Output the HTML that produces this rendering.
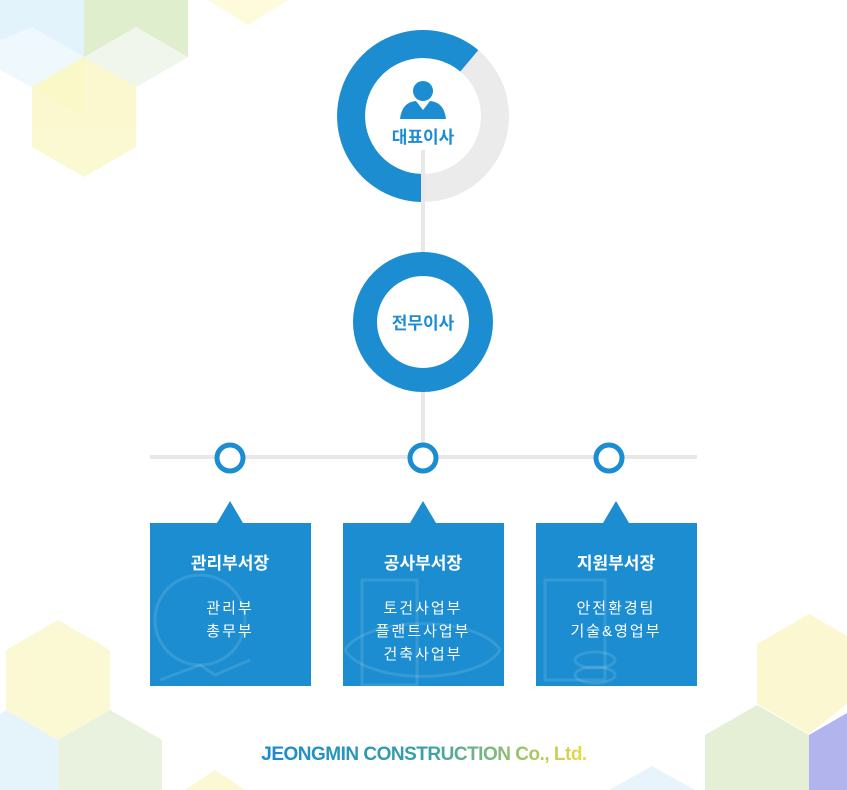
<!DOCTYPE html>
<html><head><meta charset="utf-8"><style>
html,body{margin:0;padding:0;background:#fff;width:847px;height:790px;overflow:hidden;}
body{position:relative;font-family:"Liberation Sans","Noto Sans CJK KR",sans-serif;}
svg{position:absolute;left:0;top:0;overflow:hidden;display:block;}
text{font-family:"Liberation Sans","Noto Sans CJK KR",sans-serif;}
</style></head><body>
<svg width="847" height="790" viewBox="0 0 847 790">
<defs>
<linearGradient id="lg" x1="0" x2="1"><stop offset="0" stop-color="#1a8ad2"/><stop offset="0.5" stop-color="#3aa0a8"/><stop offset="0.8" stop-color="#9ac46a"/><stop offset="1" stop-color="#f0d84a"/></linearGradient>
</defs>
<g opacity="0.9">
<polygon points="32,0 84,0 84,57 32,87 0,70 0,0" fill="#dff2fb"/>
<polygon points="84,0 188,0 188,57 136,87 84,57" fill="#dcedc8"/>
<polygon points="32,27 84,57 84,87 32,87 0,70 0,40" fill="#eef8fc"/>
<polygon points="136,27 188,57 136,87 84,57" fill="#f0f6ea"/>
<polygon points="84,57 136,87 136,147 84,177 32,147 32,87" fill="#fbf8cc"/>
<polygon points="32,87 84,117 84,57" fill="#faf8c0"/>
<polygon points="208,0 288,0 248,25" fill="#fdfbd8"/>
</g>
<g opacity="0.9">
<polygon points="58,620 110,650 110,710 58,740 6,710 6,650" fill="#fbf8d0"/>
<polygon points="110,710 162,740 162,790 58,790 58,740" fill="#e6f1dc"/>
<polygon points="6,710 58,740 58,790 0,790 0,714" fill="#e3f3fb"/>
<polygon points="215,770 245,790 185,790" fill="#fbf8d0"/>
</g>
<g opacity="0.95">
<polygon points="809,614 847,636 847,704 809,734 757,704 757,644" fill="#fbf8cf"/>
<polygon points="757,705 809,735 809,790 705,790 705,735" fill="#e3efd4"/>
<polygon points="847,713 847,790 809,790 809,735" fill="#aeb0ee"/>
<polygon points="652,766 695,790 609,790" fill="#e6f4fb"/>
</g>
<line x1="423" y1="150" x2="423" y2="457" stroke="#e8e8e8" stroke-width="4"/>
<line x1="150" y1="457" x2="697" y2="457" stroke="#e8e8e8" stroke-width="4"/>
<circle cx="423" cy="116" r="72" fill="none" stroke="#ebebeb" stroke-width="28"/>
<path d="M 469.3 60.8 A 72 72 0 1 0 423 188" fill="none" stroke="#1b8dd0" stroke-width="28"/>
<line x1="423" y1="150" x2="423" y2="202" stroke="#e8e8e8" stroke-width="4"/>
<circle cx="423" cy="91" r="10" fill="#1b8dd0"/>
<path d="M400 119 Q402 102 416 101 L423 110 L430 101 Q444 102 446 119 Z" fill="#1b8dd0"/>
<text x="423" y="143" text-anchor="middle" font-size="17" font-weight="bold" fill="#1b8dd0">대표이사</text>
<circle cx="423" cy="322" r="58" fill="#fff" stroke="#1b8dd0" stroke-width="24"/>
<text x="423" y="329" text-anchor="middle" font-size="17" font-weight="bold" fill="#1b8dd0">전무이사</text>
<circle cx="230" cy="458" r="13" fill="#fff" stroke="#1b8dd0" stroke-width="5"/>
<circle cx="423" cy="458" r="13" fill="#fff" stroke="#1b8dd0" stroke-width="5"/>
<circle cx="609" cy="458" r="13" fill="#fff" stroke="#1b8dd0" stroke-width="5"/>
<g fill="#1b8dd0">
<polygon points="230,501 243,523 217,523"/><rect x="150" y="523" width="161" height="163"/>
<polygon points="423,501 436,523 410,523"/><rect x="343" y="523" width="161" height="163"/>
<polygon points="616,501 629,523 603,523"/><rect x="536" y="523" width="161" height="163"/>
</g>
<g fill="none" stroke="#fff" stroke-opacity="0.12" stroke-width="3">
<circle cx="200" cy="620" r="45"/><path d="M160 680 L200 665 L215 675 L250 660"/>
<rect x="362" y="580" width="55" height="105"/><path d="M345 650 A80 35 0 0 1 500 650 A80 35 0 0 1 345 650"/>
<rect x="545" y="580" width="60" height="100"/><ellipse cx="595" cy="660" rx="20" ry="8"/><ellipse cx="595" cy="675" rx="20" ry="8"/>
</g>
<g fill="#fff" text-anchor="middle">
<text x="230" y="569" font-size="17" font-weight="bold">관리부서장</text>
<text x="230" y="613" font-size="15" letter-spacing="2">관리부</text>
<text x="230" y="636" font-size="15" letter-spacing="2">총무부</text>
<text x="423" y="569" font-size="17" font-weight="bold">공사부서장</text>
<text x="423" y="613" font-size="15" letter-spacing="2">토건사업부</text>
<text x="423" y="636" font-size="15" letter-spacing="2">플랜트사업부</text>
<text x="423" y="659" font-size="15" letter-spacing="2">건축사업부</text>
<text x="616" y="569" font-size="17" font-weight="bold">지원부서장</text>
<text x="616" y="613" font-size="15" letter-spacing="2">안전환경팀</text>
<text x="616" y="636" font-size="15" letter-spacing="2">기술&amp;영업부</text>
</g>
<text x="424" y="760" text-anchor="middle" font-size="19" font-weight="bold" fill="url(#lg)" letter-spacing="-0.5">JEONGMIN CONSTRUCTION Co., Ltd.</text>
</svg>
</body></html>
